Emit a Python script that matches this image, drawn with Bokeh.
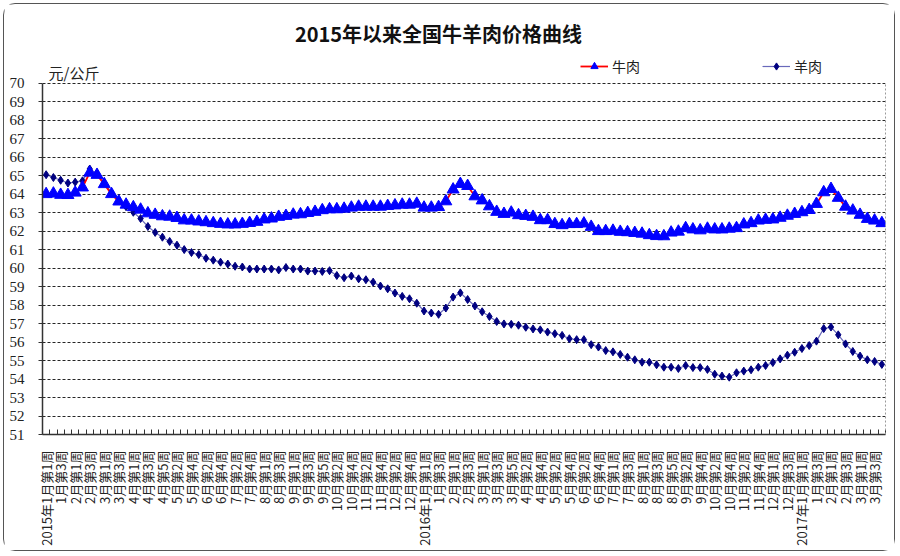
import math
from bokeh.plotting import figure
from bokeh.models import FixedTicker, Label, Legend, LegendItem, Range1d, LinearAxis
from bokeh.embed import file_html
from bokeh.resources import INLINE

# ---- categories (weekly) ----
years = [2015, 2016, 2017]
weeks_2015 = [4, 4, 4, 5, 4, 4, 5, 4, 5, 4, 4, 5]
weeks_2016 = [4, 4, 5, 4, 4, 5, 4, 5, 4, 4, 5, 4]
weeks_2017 = [4, 4, 4]
weeks_per_month = {2015: weeks_2015, 2016: weeks_2016, 2017: weeks_2017}

labels = []
for yr in years:
    for m, n in enumerate(weeks_per_month[yr], start=1):
        for w in range(1, n + 1):
            if m == 1 and w == 1:
                labels.append(f"{yr}年{m}月第{w}周")
            else:
                labels.append(f"{m}月第{w}周")

# ---- series (元/公斤) ----
beef = [64.0, 64.03, 63.96, 63.95, 64.08, 64.36, 65.16, 65.04, 64.54, 64.0,
        63.6, 63.43, 63.29, 63.16, 62.96, 62.88, 62.8, 62.78, 62.71, 62.58,
        62.57, 62.52, 62.48, 62.43, 62.39, 62.36, 62.36, 62.39, 62.44, 62.5,
        62.63, 62.68, 62.77, 62.82, 62.89, 62.91, 62.98, 63.04, 63.13, 63.18,
        63.18, 63.21, 63.27, 63.32, 63.32, 63.32, 63.32, 63.36, 63.39, 63.43,
        63.43, 63.48, 63.27, 63.27, 63.3, 63.61, 64.25, 64.55, 64.44, 63.88,
        63.66, 63.34, 63.04, 62.93, 63.0, 62.86, 62.82, 62.77, 62.59, 62.59,
        62.38, 62.32, 62.38, 62.38, 62.41, 62.23, 62.0, 62.0, 62.02, 61.96,
        61.94, 61.9, 61.86, 61.78, 61.73, 61.72, 61.92, 61.97, 62.16, 62.09,
        62.04, 62.13, 62.09, 62.09, 62.13, 62.16, 62.36, 62.43, 62.57, 62.61,
        62.63, 62.72, 62.83, 62.93, 63.02, 63.14, 63.47, 64.1, 64.28, 63.8,
        63.32, 63.11, 62.88, 62.66, 62.57, 62.43]

mutton = [65.05, 64.9, 64.75, 64.6, 64.65, 64.72, 65.36, 65.12, 64.62, 64.05,
          63.63, 63.32, 63.02, 62.68, 62.25, 61.93, 61.67, 61.44, 61.24, 61.0,
          60.84, 60.73, 60.53, 60.43, 60.32, 60.22, 60.1, 60.06, 59.95, 59.95,
          59.95, 59.95, 59.9, 60.03, 59.95, 59.95, 59.84, 59.84, 59.82, 59.86,
          59.6, 59.48, 59.57, 59.42, 59.37, 59.24, 59.03, 58.88, 58.65, 58.47,
          58.34, 58.1, 57.68, 57.57, 57.5, 57.84, 58.43, 58.66, 58.3, 57.95,
          57.64, 57.38, 57.11, 56.98, 56.96, 56.91, 56.8, 56.71, 56.66, 56.54,
          56.45, 56.36, 56.18, 56.13, 56.13, 55.86, 55.73, 55.54, 55.47, 55.33,
          55.18, 55.04, 54.91, 54.91, 54.77, 54.64, 54.64, 54.57, 54.73, 54.62,
          54.62, 54.52, 54.26, 54.16, 54.1, 54.34, 54.43, 54.5, 54.64, 54.73,
          54.89, 55.09, 55.29, 55.45, 55.65, 55.81, 56.05, 56.73, 56.81, 56.39,
          55.9, 55.49, 55.24, 55.04, 54.95, 54.79]

title_text = "2015年以来全国牛羊肉价格曲线"
unit_text = "元/公斤"
series_names = ["牛肉", "羊肉"]
y_ticks = list(range(51, 71))
y_min, y_max = 51, 70

x = list(range(len(labels)))
n = len(labels)

CJK = "Noto Sans CJK SC"
SERIF = "Liberation Serif"

# frame spans the page from y=8 to y=434; the value axis covers 51..70
p = figure(width=892, height=548, output_backend="svg", toolbar_location=None,
           x_range=Range1d(-0.5, n - 0.5), y_range=Range1d(y_min, y_max + 4.04),
           min_border_left=38, min_border_right=11, min_border_top=4,
           min_border_bottom=118, background_fill_color="white",
           border_fill_color="white")
p.styles = {"margin": "3px", "border": "1.5px solid #555555", "border-radius": "12px"}
p.outline_line_color = None

# x axis
p.xaxis.ticker = FixedTicker(ticks=x[::2], minor_ticks=[i - 0.5 for i in range(n + 1)])
p.xaxis.major_label_overrides = {i: labels[i] for i in x[::2]}
p.xaxis.major_label_orientation = math.pi / 2
p.xaxis.major_label_text_font = CJK
p.xaxis.major_label_text_font_size = "13px"
p.xaxis.major_label_text_color = "#222222"
p.xaxis.major_label_standoff = 10
p.xaxis.major_tick_line_color = None
p.xaxis.minor_tick_in = 5
p.xaxis.minor_tick_out = 0
p.xaxis.minor_tick_line_color = "#333333"
p.xaxis.axis_line_color = "#333333"
p.xaxis.axis_line_width = 1.5

# y axis
p.yaxis.ticker = FixedTicker(ticks=y_ticks, minor_ticks=[])
p.yaxis.bounds = (y_min, y_max)
p.yaxis.major_label_text_font = SERIF
p.yaxis.major_label_text_font_size = "15px"
p.yaxis.major_label_text_color = "#222222"
p.yaxis.major_tick_in = 0
p.yaxis.major_tick_out = 4
p.yaxis.major_label_standoff = 14
p.yaxis.axis_line_color = "#333333"
p.yaxis.axis_line_width = 1.5
p.yaxis.major_tick_line_color = "#333333"

# right edge of the plot area (dotted)
right_edge = LinearAxis(ticker=FixedTicker(ticks=[]), bounds=(y_min, y_max),
                        axis_line_color="#9a9a9a", axis_line_dash="2 2",
                        major_tick_line_color=None, minor_tick_line_color=None)
p.add_layout(right_edge, "right")

p.xgrid.visible = False
p.ygrid.grid_line_color = "#000000"
p.ygrid.grid_line_dash = "3 2"
p.ygrid.grid_line_width = 1
p.ygrid.grid_line_alpha = 0.85

# series
m_line = p.line(x, mutton, line_color="#4444aa", line_width=1.2, line_alpha=0.8)
m_pts = p.scatter(x, mutton, marker="diamond", size=8, fill_color="#000080",
                  line_color="#000080")
b_line = p.line(x, beef, line_color="#ff0000", line_width=1.8)
b_pts = p.scatter(x, beef, marker="triangle", size=12, fill_color="#0000ff",
                  line_color="#0000ff")

for name, rends, lx in [(series_names[0], [b_line, b_pts], 538),
                        (series_names[1], [m_line, m_pts], 720)]:
    lg = Legend(items=[LegendItem(label=name, renderers=rends)], location=(lx, 358),
                orientation="horizontal", glyph_width=28, glyph_height=18,
                label_text_font=CJK, label_text_font_size="14px",
                label_standoff=4, padding=0, margin=0, spacing=0,
                border_line_color=None, background_fill_alpha=0,
                label_text_color="#222222")
    p.add_layout(lg)

p.add_layout(Label(x=396, y=401, x_units="screen", y_units="screen", text=title_text,
                   text_align="center", text_baseline="middle", text_font=CJK,
                   text_font_size="20px", text_font_style="bold", text_color="#111111"))
p.add_layout(Label(x=6, y=362, x_units="screen", y_units="screen", text=unit_text,
                   text_align="left", text_baseline="middle", text_font=CJK,
                   text_font_size="15px", text_color="#222222"))

open("out.html", "w").write(file_html(p, INLINE))
